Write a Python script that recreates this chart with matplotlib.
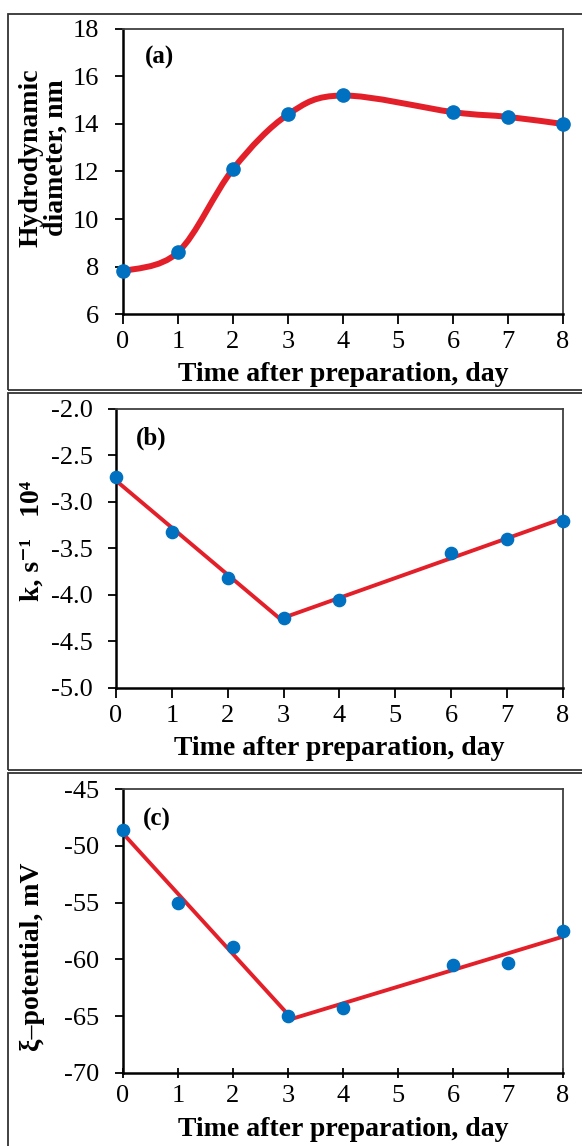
import numpy as np
import matplotlib
matplotlib.use("Agg")
import matplotlib.pyplot as plt
from matplotlib.path import Path
from matplotlib.patches import PathPatch, Rectangle

plt.rcParams['font.family'] = ['Liberation Serif', 'DejaVu Serif']
plt.rcParams['axes.unicode_minus'] = False

# data
days = [0, 1, 2, 3, 4, 6, 7, 8]
diameter = [7.8, 8.6, 12.1, 14.4, 15.2, 14.5, 14.3, 14.0]
k_rate = [-2.73, -3.32, -3.82, -4.25, -4.05, -3.55, -3.40, -3.20]
zeta = [-48.6, -55.0, -58.9, -65.0, -64.3, -60.5, -60.3, -57.5]
split_day = 3  # trend lines are fitted before / after this day

RED = '#E3202A'
BLUE = '#0070C0'

fig = plt.figure(figsize=(5.82, 11.46), dpi=100)

# panel frames
for bot, top in [(0.6597, 0.9878), (0.3281, 0.6571), (-0.01, 0.3255)]:
    fig.add_artist(Rectangle((0.0137, bot), 1.0, top - bot, transform=fig.transFigure,
                             fill=False, lw=1.3, ec='#333333'))


def style_axes(ax, xtick_dir='out'):
    ax.spines['left'].set_linewidth(1.8)
    ax.spines['bottom'].set_linewidth(1.8)
    for s in ['top', 'right']:
        ax.spines[s].set_linewidth(1.3)
        ax.spines[s].set_color('#404040')
    ax.tick_params(axis='y', direction='out', length=6, width=1.3, labelsize=19, pad=11)
    ax.tick_params(axis='x', direction=xtick_dir, length=7, width=1.3, labelsize=19, pad=5)
    ax.set_xlim(0, 8)
    ax.set_xticks(range(0, 9))
    ax.set_xlabel('Time after preparation, day', fontsize=20, fontweight='bold', labelpad=7)


def smooth_path(x, y):
    # Catmull-Rom style bezier, like a spreadsheet "smoothed line"
    pts = np.column_stack([x, y]).astype(float)
    ext = np.vstack([pts[0], pts, pts[-1]])
    verts = [pts[0]]
    codes = [Path.MOVETO]
    for i in range(len(pts) - 1):
        p0, p1, p2, p3 = ext[i], ext[i + 1], ext[i + 2], ext[i + 3]
        verts += [p1 + (p2 - p0) / 6, p2 - (p3 - p1) / 6, p2]
        codes += [Path.CURVE4] * 3
    return Path(verts, codes)


def trend(ax, x, y):
    x = np.array(x)
    y = np.array(y)
    a = x <= split_day
    b = x >= split_day
    fa = np.polyfit(x[a], y[a], 1)
    fb = np.polyfit(x[b], y[b], 1)
    xs = np.array([x[a][0], split_day])
    ax.plot(xs, np.polyval(fa, xs), color=RED, lw=2.8, zorder=2)
    xs = np.array([split_day, x[b][-1]])
    ax.plot(xs, np.polyval(fb, xs), color=RED, lw=2.8, zorder=2)


# (a) hydrodynamic diameter
ax1 = fig.add_axes([0.2113, 0.726, 0.756, 0.2487])
ax1.add_patch(PathPatch(smooth_path(days, diameter), fill=False, ec=RED, lw=4.3, zorder=2))
ax1.plot(days, diameter, 'o', color=BLUE, ms=9.5, zorder=3, clip_on=False)
ax1.set_ylim(6, 18)
ax1.set_yticks(range(6, 19, 2))
style_axes(ax1)
ax1.text(-0.18, 0.55, 'Hydrodynamic\ndiameter, nm', transform=ax1.transAxes, rotation=90,
         ha='center', va='center', fontsize=20, fontweight='bold', linespacing=1.0)
ax1.text(0.05, 0.90, '(a)', transform=ax1.transAxes, fontsize=18, fontweight='bold', va='center')

# (b) rate constant
ax2 = fig.add_axes([0.1993, 0.3997, 0.768, 0.2435])
trend(ax2, days, k_rate)
ax2.plot(days, k_rate, 'o', color=BLUE, ms=8.8, zorder=3, clip_on=False)
ax2.set_ylim(-5.0, -2.0)
ax2.set_yticks(np.arange(-5.0, -1.99, 0.5))
ax2.yaxis.set_major_formatter(matplotlib.ticker.FormatStrFormatter('%.1f'))
style_axes(ax2)
ax2.text(-0.188, 0.527, 'k, s\u207b\u00b9   10\u2074', transform=ax2.transAxes, rotation=90,
         ha='center', va='center', fontsize=20, fontweight='bold')
ax2.text(0.045, 0.896, '(b)', transform=ax2.transAxes, fontsize=18, fontweight='bold', va='center')

# (c) zeta potential
ax3 = fig.add_axes([0.2113, 0.0637, 0.756, 0.2478])
trend(ax3, days, zeta)
ax3.plot(days, zeta, 'o', color=BLUE, ms=8.8, zorder=3, clip_on=False)
ax3.set_ylim(-70, -45)
ax3.set_yticks(range(-70, -44, 5))
style_axes(ax3, xtick_dir='inout')
ax3.text(-0.205, 0.41, '\u03be\u2013potential, mV', transform=ax3.transAxes, rotation=90,
         ha='center', va='center', fontsize=20, fontweight='bold')
ax3.text(0.045, 0.894, '(c)', transform=ax3.transAxes, fontsize=18, fontweight='bold', va='center')

fig.savefig('out.png', dpi=100)
